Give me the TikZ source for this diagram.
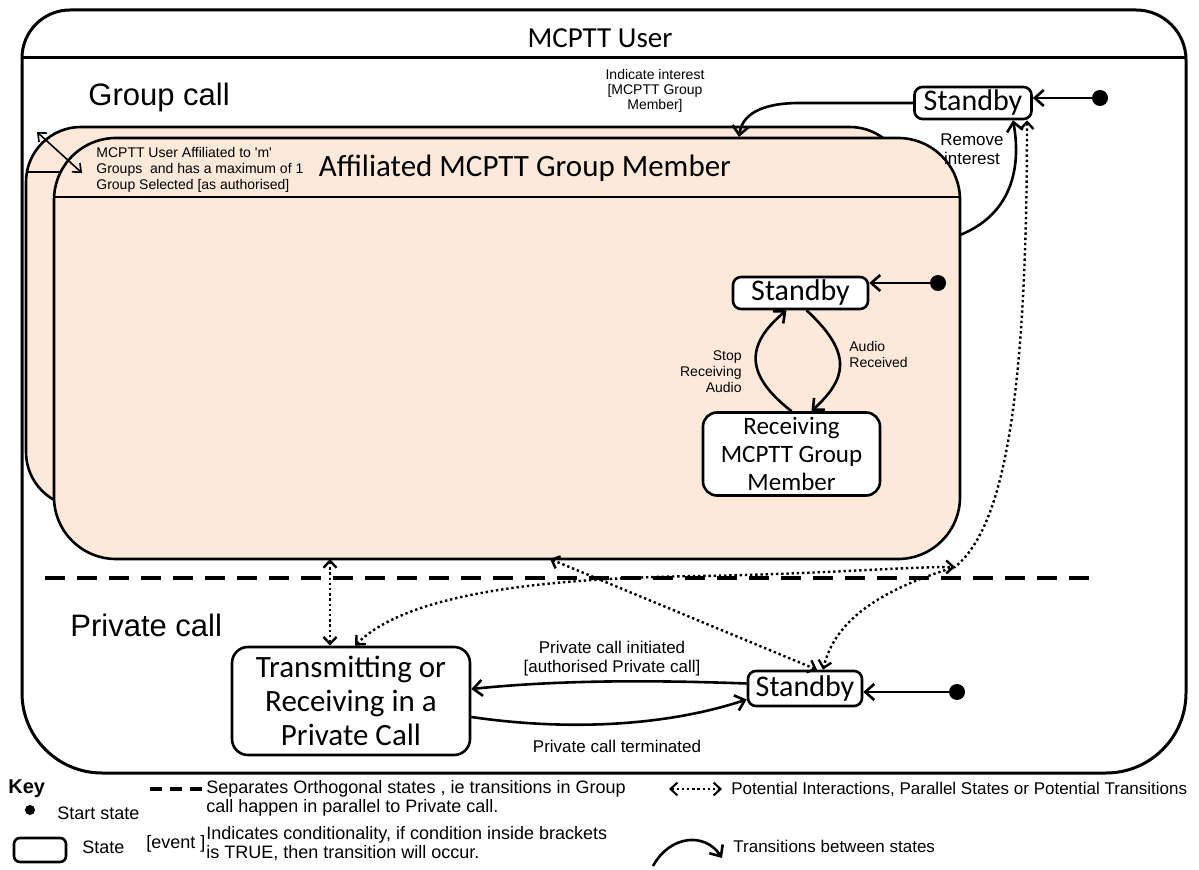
\documentclass[tikz,border=0pt]{standalone}
\usepackage{fontspec}
\setmainfont{Liberation Sans}
\newfontfamily\calib{Carlito}
\usetikzlibrary{arrows.meta}
\definecolor{peach}{RGB}{253,233,217}
\begin{document}
\begin{tikzpicture}[x=0.5pt,y=-0.5pt,
  statebox/.style={draw, line width=1.3pt, rounded corners=4pt, fill=white, inner sep=0pt, align=center, font=\calib\fontsize{15}{16}\selectfont},
  dot/.style={circle, fill=black, inner sep=0pt, minimum size=8pt},
  tr/.style={line width=1.3pt, -{Straight Barb[length=4.5pt,width=8pt]}},
  pot/.style={line width=1.2pt, dash pattern=on 1.2pt off 1.4pt, {Straight Barb[length=3.5pt,width=6.5pt]}-{Straight Barb[length=3.5pt,width=6.5pt]}},
  thinboth/.style={line width=0.8pt, {Straight Barb[length=3.5pt,width=6pt]}-{Straight Barb[length=3.5pt,width=6pt]}},
  lbl/.style={inner sep=0pt, align=center, font=\fontsize{8.5}{9.5}\selectfont},
  small/.style={inner sep=0pt, align=center, font=\fontsize{7}{8}\selectfont},
  big/.style={inner sep=0pt, font=\fontsize{15.5}{17}\selectfont},
  keytxt/.style={inner sep=0pt, align=left, anchor=west, font=\fontsize{9}{9.5}\selectfont},
  keysm/.style={inner sep=0pt, align=left, anchor=west, font=\fontsize{8.5}{9.5}\selectfont}]
\fill[white] (0,0) rectangle (1199,870);
\useasboundingbox (0,0) rectangle (1199,870);

% outer MCPTT User box
\draw[line width=1.5pt] (22,58) .. controls (22,31.5) and (43.5,10) .. (70,10) -- (1136,10)
  .. controls (1163.6,10) and (1186,32.4) .. (1186,60) -- (1186,693)
  .. controls (1186,737.2) and (1150.2,773) .. (1106,773) -- (102,773)
  .. controls (57.8,773) and (22,737.2) .. (22,693) -- cycle;
\draw[line width=1.5pt] (22,58) -- (1186,58);
\node[inner sep=0pt, font=\calib\fontsize{14.5}{16}\selectfont] (title) at (600,38) {MCPTT User};

\node[big, anchor=west] (gc) at (88,97) {Group call};
\node[big, anchor=west] (pc) at (70,625) {Private call};

% back (shadow) box
\draw[line width=1.3pt, fill=peach, rounded corners=27.5pt] (26,127) rectangle (905,507);
\draw[line width=1.3pt] (26,172) -- (905,172);
% front box
\draw[line width=1.3pt, fill=peach, rounded corners=31pt] (54,138) rectangle (960,559);
\draw[line width=1.3pt] (54,197) -- (960,197);
\node[inner sep=0pt, font=\calib\fontsize{15.5}{17}\selectfont] (afft) at (525,168) {Affiliated MCPTT Group Member};
\node[small, align=left, anchor=west] (afftxt) at (96,170) {MCPTT User Affiliated to \textquotesingle m\textquotesingle\\Groups~~and has a maximum of 1\\Group Selected [as authorised]};
\coordinate (cornerA) at (37,132);
\coordinate (cornerB) at (82,173);
\draw[thinboth] (cornerA) -- (cornerB);

% states
\node[statebox, minimum width=58.5pt, minimum height=16pt] (sbA) at (973,103) {Standby};
\node[dot] (dA) at (1100,98) {};
\draw[tr] (dA) -- (dA -| sbA.east);

\node[statebox, minimum width=67.5pt, minimum height=16pt] (sbB) at (800.5,293) {Standby};
\node[dot] (dB) at (938,283) {};
\draw[tr] (dB) -- (dB -| sbB.east);

\node[statebox, rounded corners=7pt, minimum width=88.5pt, minimum height=41.5pt, font=\calib\fontsize{12.5}{14}\selectfont] (rcv) at (791.5,454) {Receiving\\MCPTT Group\\Member};

\node[statebox, rounded corners=8pt, minimum width=119pt, minimum height=54pt, font=\calib\fontsize{15.5}{17}\selectfont] (trans) at (351,701) {Transmitting or\\Receiving in a\\Private Call};

\node[statebox, minimum width=57pt, minimum height=17.5pt] (sbC) at (805,688.5) {Standby};
\node[dot] (dC) at (957,692) {};
\draw[tr] (dC) -- (dC -| sbC.east);

% group transitions
\coordinate (affTop) at (739,137);
\coordinate (affRight) at (960,235);
\draw[tr] (sbA.west) -- (800,103) .. controls (760,103) and (742,115) .. (affTop);
\node[small, align=center, font=\fontsize{7}{7.5}\selectfont] (ii) at (655,91) {Indicate interest\\{[MCPTT Group}\\Member]};
\draw[tr] (affRight) .. controls (1010,215) and (1022,170) .. ([xshift=20pt]sbA.south);
\node[lbl] (ri) at (972,149) {Remove\\interest};

\draw[tr] ([xshift=3pt]sbB.south) .. controls (855,355) and (845,380) .. ([xshift=10pt]rcv.north);
\draw[tr] (rcv.north) .. controls (745,375) and (745,345) .. ([xshift=-7pt]sbB.south);
\node[small, align=left, anchor=west] (ar) at (849,355) {Audio\\Received};
\node[small, align=right, anchor=east] (sra) at (742,372) {Stop\\Receiving\\Audio};

% private transitions
\draw[tr] ([yshift=2.5pt]sbC.west) .. controls (650,680) and (560,680) .. ([yshift=6pt]trans.east);
\draw[tr] ([yshift=-8pt]trans.east) .. controls (560,730) and (660,728) .. ([yshift=-5.5pt]sbC.west);
\node[lbl] (pci) at (612,659) {Private call initiated\\{[authorised Private call]}};
\node[lbl] (pct) at (617,746) {Private call terminated};

% separator
\coordinate (sepL) at (45,578);
\coordinate (sepR) at (1093,578);
\draw[line width=2pt, dash pattern=on 10pt off 6pt] (sepL) -- (sepR);

% potential interactions
\coordinate (affBotA) at (330,559);
\coordinate (affBotB) at (550,559);
\coordinate (pvMeet) at (955,567);
\draw[pot] (affBotA) -- (affBotA |- trans.north);
\draw[pot] (affBotB) -- ([xshift=6pt]sbC.north);
\draw[pot] ([xshift=27pt]sbA.south) .. controls (1027,420) and (1000,530) .. (pvMeet)
   .. controls (880,590) and (835,620) .. ([xshift=9pt]sbC.north);
\draw[pot] ([xshift=2pt]trans.north) .. controls (410,590) and (560,578) .. (700,576)
   .. controls (820,574) and (900,567) .. (pvMeet);

% key
\node[inner sep=0pt, anchor=west, font=\bfseries\fontsize{10}{11}\selectfont] (key) at (8,789) {Key};
\node[dot, minimum size=5pt] (kdot) at (30,810) {};
\node[keytxt] (kss) at (57,813) {Start state};
\draw[line width=1.3pt, rounded corners=3pt] (14,838) rectangle (66,862);
\node[keytxt] (kst) at (82,847) {State};
\coordinate (kdL) at (150,789);
\coordinate (kdR) at (202,789);
\draw[line width=1.6pt, dash pattern=on 6pt off 4pt] (kdL) -- (kdR);
\node[keytxt] (ksep) at (206,798.5) {Separates Orthogonal states , ie transitions in Group\\call happen in parallel to Private call.};
\node[keytxt] (kev) at (146,844) {[event ]};
\node[keytxt] (kind) at (206,844) {Indicates conditionality, if condition inside brackets\\is TRUE, then transition will occur.};
\coordinate (kpL) at (669,789);
\coordinate (kpR) at (722,789);
\draw[pot, line width=1pt] (kpL) -- (kpR);
\node[keysm] (kpot) at (731,789) {Potential Interactions, Parallel States or Potential Transitions};
\coordinate (ktL) at (653,866);
\coordinate (ktR) at (722,858);
\draw[tr] (ktL) .. controls (670,835) and (705,832) .. (ktR);
\node[keysm] (ktr) at (733,846) {Transitions between states};
\end{tikzpicture}
\end{document}
